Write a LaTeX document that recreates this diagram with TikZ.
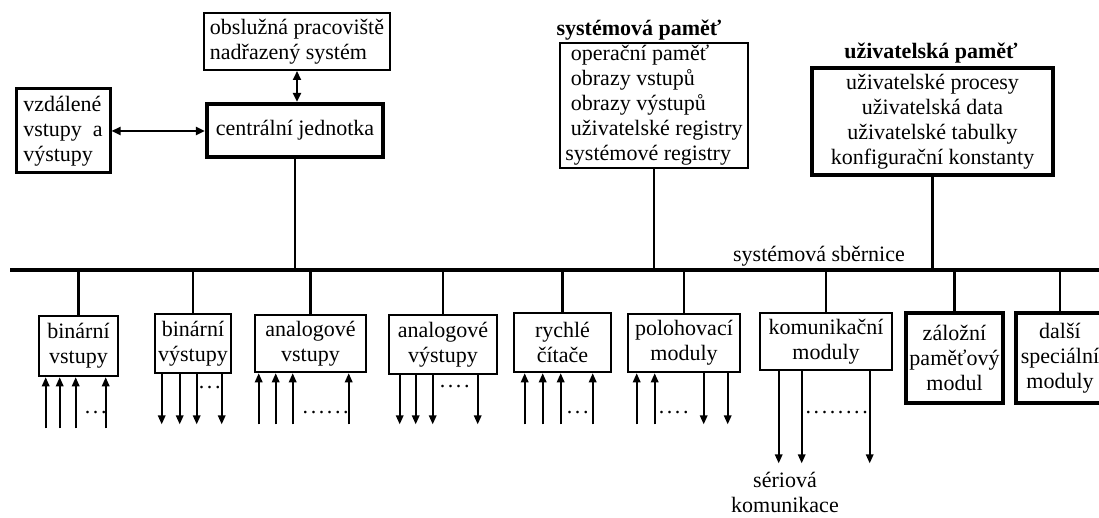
\documentclass[tikz,border=0pt]{standalone}
\usepackage{fontspec}
\setmainfont{Liberation Serif}
\usetikzlibrary{arrows.meta,calc}
\newcommand{\dotrow}[1]{\foreach \i in {1,...,#1}{.\kern1.3pt}}

\begin{document}
\begin{tikzpicture}[x=0.5pt,y=-0.5pt,
  font=\fontsize{11}{12.5}\selectfont,
  blok/.style={draw,line width=1.3pt,align=center,inner sep=1pt},
  tlustyblok/.style={blok,line width=2pt},
  spoj/.style={line width=1.3pt},
  tip/.style={-{Triangle[length=4.5pt,width=3.8pt]},line width=0.8pt},
  obousmer/.style={{Triangle[length=4.5pt,width=4pt]}-{Triangle[length=4.5pt,width=4pt]},line width=1.1pt},
  tecky/.style={inner sep=0pt}]

\useasboundingbox (0,0) rectangle (1099,518);
\clip (0,0) rectangle (1099,518);

% horni cast
\node[blok,line width=1.5pt,align=left,minimum width=47pt,minimum height=42pt] (vzd) at (63,131)
  {vzdálené\\vstupy\ \ a\\výstupy};
\node[tlustyblok,line width=2.2pt,minimum width=88pt,minimum height=26.5pt] (cj) at (295,130.5) {centrální jednotka};
\node[blok,line width=1pt,align=left,minimum width=93pt,minimum height=28.5pt] (obs) at (297,41.5)
  {obslužná pracoviště\\nadřazený systém};

\draw[obousmer] (obs.south) -- (obs.south |- cj.north);
\draw[obousmer] (vzd.east) -- (vzd.east -| cj.west);

\node[font=\fontsize{11}{12.5}\selectfont\bfseries] (sptit) at (639,30) {systémová paměť};
\node[blok,line width=1.2pt,align=left,minimum width=94pt,minimum height=62.5pt] (sp) at (654,105.5)
  {\ operační paměť\\\ obrazy vstupů\\\ obrazy výstupů\\\ uživatelské registry\\systémové registry};

\node[font=\fontsize{11}{12.5}\selectfont\bfseries] (uptit) at (931,53) {uživatelská paměť};
\node[tlustyblok,minimum width=120.5pt,minimum height=53.5pt] (up) at (932.5,121.5)
  {uživatelské procesy\\uživatelská data\\uživatelské tabulky\\konfigurační konstanty};

% sbernice
\coordinate (busL) at (10,270);
\coordinate (busR) at (1099,270);
\draw[line width=2.3pt] (busL) -- (busR);
\node (sbl) at (819,256) {systémová sběrnice};

\draw[spoj] (cj.south) -- (cj.south |- busL);
\draw[spoj] (sp.south) -- (sp.south |- busL);
\draw[spoj] (up.south) -- (up.south |- busL);

% moduly
\node[blok,minimum width=39.5pt,minimum height=30pt] (bv) at (78.5,346) {binární\\vstupy};
\node[blok,minimum width=38pt,minimum height=29.5pt] (bvy) at (193,343.5) {binární\\výstupy};
\node[blok,minimum width=55.5pt,minimum height=28.5pt] (av) at (310.5,343.5) {analogové\\vstupy};
\node[blok,minimum width=54pt,minimum height=29.5pt] (avy) at (443,344.5) {analogové\\výstupy};
\node[blok,minimum width=48.5pt,minimum height=29.5pt] (rc) at (562.5,342.5) {rychlé\\čítače};
\node[blok,minimum width=56pt,minimum height=29pt] (pm) at (684,343) {polohovací\\moduly};
\node[blok,minimum width=66pt,minimum height=28.5pt] (km) at (826,341.5) {komunikační\\moduly};
\node[tlustyblok,line width=1.8pt,minimum width=48.5pt,minimum height=45pt] (zpm) at (954.5,358) {záložní\\paměťový\\modul};
\node[tlustyblok,line width=1.8pt,minimum width=44pt,minimum height=45pt] (dsm) at (1060,358) {další\\speciální\\moduly};

\foreach \m in {bv,bvy,av,avy,rc,pm,km,zpm,dsm}
  \draw[spoj] (\m.north) -- (\m.north |- busL);

% vstupy a vystupy modulu
\foreach \o in {8,22,38,68}
  \draw[tip] ($(bv.south west)+(\o,51)$) -- ++(0,-51);
\foreach \o in {8,26,43,68}
  \draw[tip] ($(bvy.south west)+(\o,0)$) -- ++(0,50);
\foreach \o in {5,22,39,95}
  \draw[tip] ($(av.south west)+(\o,51)$) -- ++(0,-51);
\foreach \o in {12,28,45,90}
  \draw[tip] ($(avy.south west)+(\o,0)$) -- ++(0,49);
\foreach \o in {12,30,48,80}
  \draw[tip] ($(rc.south west)+(\o,51)$) -- ++(0,-51);
\foreach \o in {10,28}
  \draw[tip] ($(pm.south west)+(\o,51)$) -- ++(0,-51);
\foreach \o in {77,101}
  \draw[tip] ($(pm.south west)+(\o,0)$) -- ++(0,51);
\foreach \o in {20,43,111}
  \draw[tip] ($(km.south west)+(\o,0)$) -- ++(0,92);

\node[tecky] (t1) at (97,413) {\dotrow{3}};
\node[tecky] (t2) at (211,388) {\dotrow{3}};
\node[tecky] (t3) at (327,413) {\dotrow{6}};
\node[tecky] (t4) at (456,387) {\dotrow{4}};
\node[tecky] (t5) at (579,413) {\dotrow{3}};
\node[tecky] (t6) at (675,413) {\dotrow{4}};
\node[tecky] (t7) at (838,413) {\dotrow{8}};

\node[align=center,inner sep=1pt] (ser) at (785,492) {sériová\\komunikace};

\end{tikzpicture}
\end{document}
